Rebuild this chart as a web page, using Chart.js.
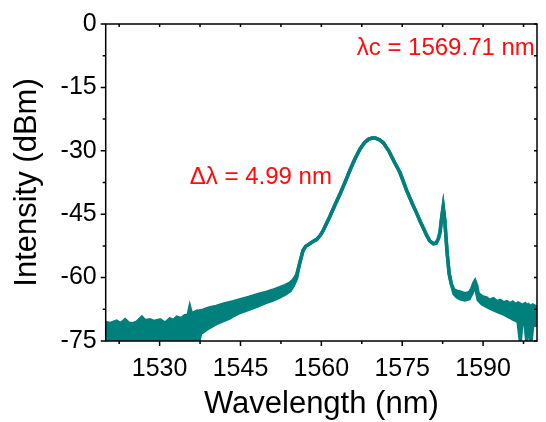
<!DOCTYPE html>
<html><head><meta charset="utf-8">
<script src="https://cdn.jsdelivr.net/npm/chart.js@4.4.0/dist/chart.umd.min.js"></script>
<style>html,body{margin:0;padding:0;background:#fff;}#wrap{width:546px;height:422px;}</style>
</head><body><div id="wrap"><canvas id="c" width="546" height="422"></canvas></div>
<script>
// Wavelength (nm) sample positions
const wavelength = [1520.0,1520.8,1522.0,1522.8,1523.6,1524.3,1525.1,1525.8,1526.7,1527.3,1528.2,1529.0,1530.1,1531.0,1531.9,1532.6,1533.2,1534.0,1534.7,1535.3,1535.6,1535.9,1536.4,1536.7,1537.0,1537.3,1537.6,1538.1,1538.7,1539.4,1540.5,1541.8,1543.1,1543.7,1545.0,1546.5,1548.0,1549.5,1551.0,1552.3,1553.3,1554.2,1554.8,1555.4,
1556.0,1556.6,1557.1,1557.6,1558.3,1559.1,1559.8,1560.4,1561.6,1562.5,1563.5,1564.4,1565.3,1566.2,1567.2,1568.0,1568.7,1569.4,1570.0,1570.8,1571.5,1572.5,1573.4,1574.6,1575.8,1576.9,1577.7,1578.3,1579.0,1579.5,1580.1,1580.8,1581.3,1581.7,1582.0,1582.3,1582.6,1582.9,1583.3,1583.7,1584.1,
1584.6,1585.1,1585.7,1586.6,1587.4,1587.9,1588.3,1588.5,1588.8,1589.1,1589.8,1590.6,1591.2,1591.9,1592.6,1593.2,1593.8,1594.4,1595.0,1595.5,1596.0,1596.5,1596.9,1597.2,1597.8,1598.1,1598.4,1598.9,1599.2,1600.0];
// Upper envelope of the measured spectrum (dBm)
const upperEnv = [-70.6,-70.9,-70.3,-70.9,-70.0,-70.8,-70.9,-70.5,-69.4,-70.2,-70.0,-70.4,-70.0,-70.8,-69.8,-70.1,-69.4,-69.7,-69.0,-68.9,-67.1,-68.6,-68.3,-68.1,-67.9,-68.0,-67.8,-67.7,-67.4,-67.1,-66.8,-66.3,-65.9,-65.7,-65.2,-64.7,-64.1,-63.6,-63.0,-62.4,-61.9,-61.3,-60.6,-59.4,
-56.5,-53.6,-52.6,-52.2,-51.6,-51.0,-50.0,-48.7,-45.5,-42.9,-40.1,-37.4,-34.6,-32.0,-29.5,-28.1,-27.3,-27.0,-27.0,-27.4,-28.1,-30.0,-32.3,-35.2,-39.3,-42.6,-44.8,-46.6,-48.5,-49.9,-51.3,-52.0,-51.8,-50.8,-49.4,-46.0,-43.2,-46.5,-53.7,-59.0,-61.5,
-62.9,-63.2,-63.4,-63.8,-63.6,-62.6,-61.2,-60.8,-61.8,-63.8,-64.5,-64.8,-65.4,-65.0,-65.7,-65.4,-66.0,-65.7,-66.2,-65.8,-66.4,-66.0,-66.3,-66.6,-66.2,-66.7,-66.4,-66.9,-66.5,-67.0];
// Lower envelope of the measured spectrum (dBm)
const lowerEnv = [-75,-75,-75,-75,-75,-75,-75,-75,-75,-75,-75,-75,-75,-75,-75,-75,-75,-75,-75,-75,-75,-75,-75,-73.7,-75,-75,-73.2,-72.8,-72.2,-71.7,-70.9,-70.2,-69.5,-69.0,-68.2,-67.5,-66.8,-66.0,-65.3,-64.6,-63.9,-63.1,-61.9,-60.2,
-56.5,-53.6,-52.6,-52.2,-51.6,-51.0,-50.0,-48.7,-45.5,-42.9,-40.1,-37.4,-34.6,-32.0,-29.5,-28.1,-27.3,-27.0,-27.0,-27.4,-28.1,-30.0,-32.3,-35.2,-39.3,-42.6,-44.8,-46.6,-48.5,-49.9,-51.3,-52.0,-51.8,-50.8,-49.4,-46.0,-43.2,-46.5,-53.7,-59.0,-61.5,
-63.8,-64.5,-65.0,-65.3,-65.0,-63.8,-62.4,-61.8,-63.5,-65.3,-66.2,-66.8,-67.2,-67.6,-68.0,-68.3,-68.6,-69.0,-69.4,-69.8,-70.1,-70.4,-75,-70.8,-71.0,-75,-71.2,-75,-71.3,-71.3];

const xTicks = [1522.5,1530,1537.5,1545,1552.5,1560,1567.5,1575,1582.5,1590,1597.5];
const xLabels = [1530,1545,1560,1575,1590];
const yTicks = [-75,-67.5,-60,-52.5,-45,-37.5,-30,-22.5,-15,-7.5,0];
const yLabels = [-75,-60,-45,-30,-15,0];
const annotations = [
  {text:'λc = 1569.71 nm', x:1599.6, y:-5.7, align:'right'},
  {text:'Δλ = 4.99 nm', x:1535.6, y:-36.2, align:'left'}
];

const FONT = '"Liberation Sans", Arial, sans-serif';
const TEAL = '#00807d';

const framePlugin = {
  id:'frame',
  afterDatasetsDraw(chart){
    const {ctx, chartArea:a, scales:{x, y}} = chart;
    ctx.save();
    ctx.strokeStyle = '#000'; ctx.lineWidth = 1.5;
    ctx.strokeRect(a.left, a.top, a.right-a.left, a.bottom-a.top);
    ctx.beginPath();
    xTicks.forEach(v=>{
      const px = x.getPixelForValue(v);
      const L = xLabels.includes(v) ? 5 : 3;
      ctx.moveTo(px, a.bottom); ctx.lineTo(px, a.bottom+L);
      ctx.moveTo(px, a.top); ctx.lineTo(px, a.top+3);
    });
    yTicks.forEach(v=>{
      const py = y.getPixelForValue(v);
      const L = yLabels.includes(v) ? 5 : 3;
      ctx.moveTo(a.left, py); ctx.lineTo(a.left-L, py);
      ctx.moveTo(a.right, py); ctx.lineTo(a.right-3, py);
    });
    ctx.stroke();
    ctx.fillStyle = '#ff0d0d';
    ctx.font = '24px ' + FONT;
    ctx.textBaseline = 'middle';
    annotations.forEach(an=>{
      ctx.textAlign = an.align;
      ctx.fillText(an.text, x.getPixelForValue(an.x), y.getPixelForValue(an.y));
    });
    ctx.restore();
  }
};

new Chart(document.getElementById('c'), {
  type:'line',
  data:{
    datasets:[
      {data: wavelength.map((w,i)=>({x:w, y:upperEnv[i]})), borderColor:TEAL, borderWidth:3.5, pointRadius:0, fill:false, tension:0, clip:0},
      {data: wavelength.map((w,i)=>({x:w, y:lowerEnv[i]})), borderColor:TEAL, borderWidth:3.5, pointRadius:0, fill:'-1', backgroundColor:TEAL, tension:0, clip:0}
    ]
  },
  options:{
    responsive:false, animation:false, events:[],
    layout:{padding:{left:0, right:9, top:21, bottom:0}},
    plugins:{legend:{display:false}, tooltip:{enabled:false}},
    scales:{
      x:{
        type:'linear', min:1520, max:1600,
        grid:{display:false, drawTicks:false}, border:{display:false},
        afterBuildTicks:s=>{ s.ticks = xTicks.map(v=>({value:v})); },
        afterFit:s=>{ s.height = 81; },
        ticks:{autoSkip:false, maxRotation:0, padding:13, color:'#000', font:{family:FONT, size:25},
          callback:v=> xLabels.includes(v) ? String(v) : ''},
        title:{display:true, text:'Wavelength (nm)', color:'#000', font:{family:FONT, size:31, lineHeight:1.1}, padding:{top:0,bottom:0}}
      },
      y:{
        type:'linear', min:-75, max:0,
        grid:{display:false, drawTicks:false}, border:{display:false},
        afterBuildTicks:s=>{ s.ticks = yTicks.map(v=>({value:v})); },
        afterFit:s=>{ s.width = 105.7; },
        ticks:{autoSkip:false, padding:9, color:'#000', font:{family:FONT, size:25},
          callback:v=> yLabels.includes(v) ? String(v) : ''},
        title:{display:true, text:'Intensity (dBm)', color:'#000', font:{family:FONT, size:31, lineHeight:1.2}, padding:{top:9,bottom:0}}
      }
    }
  },
  plugins:[framePlugin]
});
</script>
</body></html>
